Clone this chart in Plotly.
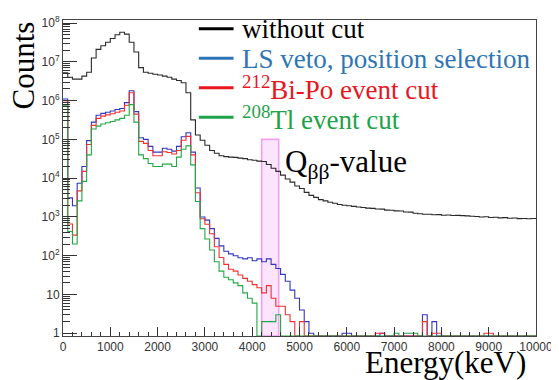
import numpy as np
import plotly.graph_objects as go

# ---------------- data ----------------
BIN_WIDTH = 100          # keV
E_MIN, E_MAX = 0, 10000  # keV

without_cut = [
    5.2e6, 4.0e6, 3.6e6, 3.6e6, 4.3e6, 5.4e6, 1.26e7, 2.1e7, 2.6e7, 3.2e7,
    4.0e7, 5.0e7, 5.8e7, 5.2e7, 3.2e7, 1.8e7, 7.1e6, 5.4e6, 5.1e6, 4.8e6,
    4.6e6, 4.3e6, 4.0e6, 3.6e6, 3.3e6, 2.9e6, 1.6e6, 3.2e5, 1.3e5, 9.5e4,
    7.1e4, 5.2e4, 4.4e4, 3.8e4, 3.6e4, 3.5e4, 3.45e4, 3.3e4, 3.2e4, 3.0e4,
    2.9e4, 2.75e4, 2.7e4, 2.25e4, 1.8e4, 1.5e4, 1.2e4, 9.5e3, 7.9e3, 6.3e3,
    5.4e3, 4.3e3, 3.6e3, 3.2e3, 2.8e3, 2.6e3, 2.4e3, 2.25e3, 2.1e3, 2.0e3,
    1950, 1880, 1800, 1760, 1690, 1670, 1610, 1590, 1500, 1490,
    1440, 1420, 1340, 1330, 1250, 1210, 1170, 1180, 1140, 1150,
    1110, 1120, 1090, 1100, 1080, 1070, 1040, 1030, 1000, 1010,
    970, 985, 950, 960, 930, 940, 905, 915, 900, 910,
]

ls_veto_position = [
    1.1e6, 3100, 1950, 7400, 2.0e4, 9.3e4, 2.8e5, 4.2e5, 4.7e5, 5.0e5,
    5.4e5, 5.9e5, 6.3e5, 8.9e5, 1.8e6, 5.2e5, 1.1e5, 1.0e5, 6.6e4, 4.7e4,
    4.7e4, 5.9e4, 5.6e4, 5.0e4, 6.6e4, 1.17e5, 1.48e5, 4.7e4, 5600, 1000,
    830, 500, 280, 180, 130, 112, 100, 89, 83, 89,
    74, 83, 70, 83, 60, 47, 33, 22, 13, 8,
    4, 2, 1, 0, 0, 0, 0, 0, 0, 1,
    1, 0, 0, 0, 0, 0, 0, 1, 0, 0,
    0, 0, 0, 0, 0, 0, 3, 0, 2, 0,
    0, 0, 0, 0, 0, 0, 0, 0, 0, 0,
    0, 0, 0, 0, 0, 0, 0, 0, 0, 0,
]

bipo_cut = [
    1.0e6, 660, 340, 4700, 1.5e4, 7.4e4, 2.3e5, 3.5e5, 4.0e5, 4.3e5,
    4.6e5, 5.0e5, 5.4e5, 7.6e5, 1.6e6, 4.5e5, 8.9e4, 7.9e4, 5.2e4, 3.8e4,
    3.8e4, 4.8e4, 4.6e4, 4.2e4, 5.2e4, 9.5e4, 1.2e5, 4.0e4, 4200, 900,
    650, 370, 170, 90, 60, 45, 40, 32, 26, 22,
    18, 15, 11, 17, 8, 5, 5, 3, 2, 0,
    2, 0, 0, 0, 0, 0, 0, 0, 0, 0,
    0, 0, 0, 0, 0, 0, 1, 1, 0, 0,
    0, 0, 0, 0, 0, 0, 2, 0, 1, 1,
    0, 0, 0, 0, 0, 0, 0, 0, 0, 1,
    1, 0, 0, 0, 0, 0, 0, 0, 0, 0,
]

tl_cut = [
    7.4e5, 420, 200, 2600, 8300, 4.0e4, 1.85e5, 2.2e5, 2.5e5, 2.7e5,
    2.9e5, 3.2e5, 3.5e5, 4.2e5, 7.9e5, 2.8e5, 4.0e4, 3.2e4, 2.4e4, 2.0e4,
    2.0e4, 2.3e4, 2.3e4, 2.0e4, 3.5e4, 5.6e4, 6.8e4, 2.2e4, 2500, 500,
    270, 140, 70, 40, 28, 24, 20, 17, 11, 8,
    6, 0, 2, 2, 2, 3, 0, 0, 0, 0,
    0, 0, 0, 0, 0, 0, 0, 0, 0, 0,
    0, 0, 0, 0, 0, 0, 0, 0, 0, 0,
    1, 0, 1, 1, 1, 0, 0, 0, 0, 0,
    0, 0, 0, 0, 0, 0, 0, 0, 0, 0,
    0, 0, 0, 0, 0, 0, 0, 0, 0, 0,
]

series_names = ["without cut", "LS veto, position selection",
                "<sup>212</sup>Bi-Po event cut", "<sup>208</sup>Tl event cut"]
line_colors = ["#2a2a2a", "#3434c4", "#f23030", "#22a844"]
text_colors = ["#000000", "#2e75b6", "#e8161e", "#1fa34a"]

QBB_WINDOW = (4200, 4560)   # keV, shaded Q-value window
QBB_BAND_TOP = 1e5

x_tick_vals = list(range(0, 10001, 1000))
x_tick_text = [str(v) for v in x_tick_vals]
y_tick_vals = [10 ** k for k in range(0, 9)]
y_tick_text = ["1", "10"] + [f"10<sup>{k}</sup>" for k in range(2, 9)]

SERIF = "Liberation Serif, Times New Roman, Times, DejaVu Serif, serif"
SANS = "Liberation Sans, Arial, Helvetica, sans-serif"

# ---------------- figure ----------------
BODY = 8                      # default page margin around the plot div
W, H = 559 - BODY, 380 - BODY
ML, MR, MT, MB = 63 - BODY, 19, 14 - BODY, 44
Y_LOG_RANGE = [-0.07, 8.08]
y_floor = 10 ** Y_LOG_RANGE[0]

edges = np.arange(E_MIN, E_MAX + BIN_WIDTH, BIN_WIDTH)

def px(xp):   # page pixel -> paper fraction
    return (xp - BODY - ML) / (W - ML - MR)

def py(yp):
    return (H - MB - (yp - BODY)) / (H - MT - MB)

fig = go.Figure()
for vals, col in zip([without_cut, ls_veto_position, bipo_cut, tl_cut], line_colors):
    v = np.asarray(vals, dtype=float)
    v = np.where(v > 0, v, y_floor)
    xs = np.append(edges[:-1], edges[-1])
    ys = np.append(v, v[-1])
    fig.add_trace(go.Scatter(x=xs, y=ys, mode="lines", line_shape="hv",
                             line=dict(color=col, width=1.1), showlegend=False,
                             hoverinfo="skip"))

shapes = [
    dict(type="rect", xref="x", yref="y", x0=QBB_WINDOW[0], x1=QBB_WINDOW[1],
         y0=y_floor, y1=QBB_BAND_TOP, fillcolor="#fce4fc",
         line=dict(color="#f0a0f0", width=1.6), layer="below"),
]

annotations = []
legend_line_y = [23, 53, 83, 113]
legend_text_y = [23, 54, 83, 114]
for name, lc, tc, ly, ty in zip(series_names, ["#000000"] + text_colors[1:], text_colors,
                                legend_line_y, legend_text_y):
    shapes.append(dict(type="line", xref="paper", yref="paper",
                       x0=px(200), x1=px(235), y0=py(ly), y1=py(ly),
                       line=dict(color=lc, width=3)))
    annotations.append(dict(text=name, xref="paper", yref="paper",
                            x=px(242), y=py(ty), xanchor="left", yanchor="middle",
                            showarrow=False,
                            font=dict(family=SERIF, size=27, color=tc)))

annotations += [
    dict(text="Counts", xref="paper", yref="paper", x=px(23), y=py(60),
         textangle=-90, showarrow=False, xanchor="center", yanchor="middle",
         font=dict(family=SERIF, size=31, color="#000")),
    dict(text="Energy(keV)", xref="paper", yref="paper", x=px(449), y=py(363),
         showarrow=False, xanchor="center", yanchor="middle",
         font=dict(family=SERIF, size=31, color="#000")),
    dict(text="Q<sub>ββ</sub>-value", xref="paper", yref="paper", x=px(285), y=py(161),
         showarrow=False, xanchor="left", yanchor="middle",
         font=dict(family=SERIF, size=31, color="#000")),
]

axis_common = dict(showgrid=False, zeroline=False, showline=True, linecolor="#444",
                   linewidth=1, mirror=True, ticks="inside", tickcolor="#333",
                   tickfont=dict(family=SANS, size=12, color="#333"))

fig.update_layout(
    width=W, height=H,
    margin=dict(l=ML, r=MR, t=MT, b=MB),
    paper_bgcolor="white", plot_bgcolor="white",
    shapes=shapes, annotations=annotations,
    xaxis=dict(range=[E_MIN, E_MAX], tickmode="array", tickvals=x_tick_vals,
               ticktext=x_tick_text,
               ticklen=9, minor=dict(dtick=200, ticks="inside", ticklen=4,
                                     tickcolor="#333", showgrid=False),
               **axis_common),
    yaxis=dict(type="log", range=Y_LOG_RANGE, tickmode="array",
               tickvals=y_tick_vals, ticktext=y_tick_text, ticklen=14,
               minor=dict(tickmode="array",
                          tickvals=[m * 10 ** k for k in range(0, 8) for m in range(2, 10)],
                          ticks="inside", ticklen=7, tickcolor="#333", showgrid=False),
               **axis_common),
)

fig.write_html("out.html")
